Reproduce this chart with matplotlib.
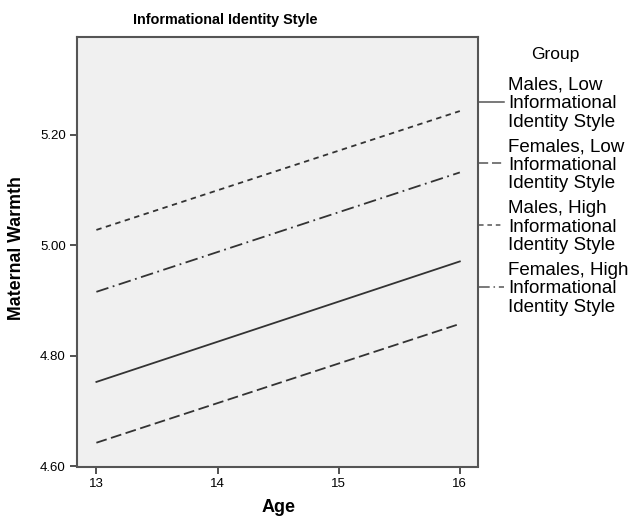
import matplotlib
matplotlib.use('Agg')
from matplotlib import pyplot as plt
from matplotlib.lines import Line2D

plt.rcParams['font.family'] = ['Liberation Sans', 'DejaVu Sans']

# Predicted maternal warmth at ages 13 and 16 for each group
ages = [13, 16]
males_low = [4.753, 4.971]
females_low = [4.643, 4.858]
males_high = [5.028, 5.243]
females_high = [4.916, 5.132]

groups = ['Males, Low\nInformational\nIdentity Style',
          'Females, Low\nInformational\nIdentity Style',
          'Males, High\nInformational\nIdentity Style',
          'Females, High\nInformational\nIdentity Style']
series = [males_low, females_low, males_high, females_high]
styles = ['-', (0, (6, 2.5)), (0, (3, 2.5)), (0, (7, 2.5, 1, 2.5))]

yticks = [4.60, 4.80, 5.00, 5.20]
xticks = [13, 14, 15, 16]

W, H = 633, 518
fig = plt.figure(figsize=(W / 100, H / 100), dpi=100)
ax = fig.add_axes([77 / W, 1 - 466.5 / H, (478 - 77) / W, (466.5 - 37) / H])
ax.set_facecolor('#f0f0f0')

for vals, ls in zip(series, styles):
    ax.plot(ages, vals, color='#333333', linestyle=ls, linewidth=1.3)

ax.set_xlim(12.84, 16.15)
ax.set_ylim(4.60, 5.377)
ax.set_xticks(xticks)
ax.set_yticks(yticks)
ax.set_yticklabels(['%.2f' % v for v in yticks])
ax.tick_params(labelsize=9.5, length=5, width=1.2, color='#333333', pad=3)
for s in ax.spines.values():
    s.set_color('#555555')
    s.set_linewidth(1.5)

fig.text(225 / W, 1 - 20 / H, 'Informational Identity Style', ha='center', va='center',
         fontsize=10.4, fontweight='bold')
fig.text(17 / W, 1 - 248 / H, 'Maternal Warmth', rotation=90, ha='center', va='center',
         fontsize=12.8, fontweight='bold')
fig.text(279 / W, 1 - 508 / H, 'Age', ha='center', va='center',
         fontsize=13, fontweight='bold')

# legend drawn beside the axes
fig.text(555 / W, 1 - 55 / H, 'Group', ha='center', va='center', fontsize=12.5)
entry_y = [101.7, 163.3, 225, 286.7]
for label, ls, y in zip(groups, styles, entry_y):
    fig.add_artist(Line2D([479 / W, 504 / W], [1 - y / H, 1 - y / H], color='#555555',
                          linestyle=ls, linewidth=1.1, transform=fig.transFigure))
    fig.text(508 / W, 1 - (y + 2) / H, label, ha='left', va='center', fontsize=13.5,
             linespacing=1.12)

fig.savefig('out.png', dpi=100)
